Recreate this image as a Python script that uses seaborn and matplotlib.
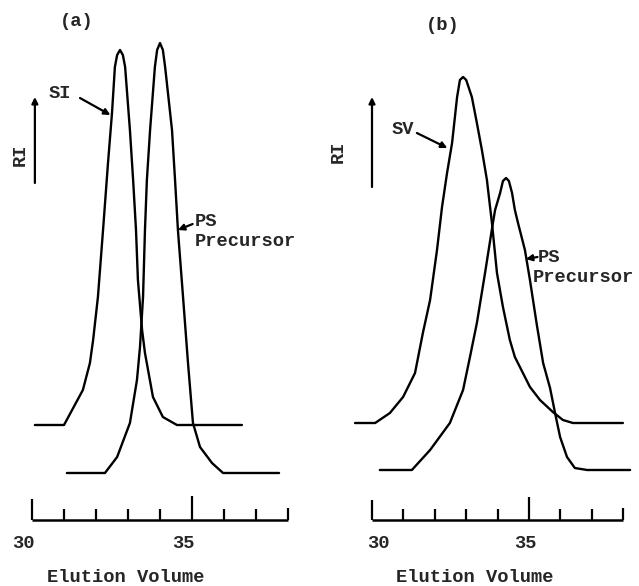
import numpy as np
import pandas as pd
import matplotlib
matplotlib.use("Agg")
import matplotlib.pyplot as plt
import seaborn as sns

# ---------------- data ----------------
# Panel (a): SI and PS precursor  (elution volume, height above own baseline)
si_a_vol = [30.09, 31.00, 31.59, 31.81, 31.91, 32.06, 32.22, 32.375, 32.50, 32.59,
            32.66, 32.75, 32.84, 32.91, 33.06, 33.16, 33.25, 33.31, 33.44, 33.53,
            33.78, 34.09, 34.53, 36.56]
si_a_h = [0, 0, 35, 62, 85, 128, 195, 262, 312, 358,
          370, 375, 370, 358, 295, 245, 195, 145, 95, 72,
          28, 8, 0, 0]
ps_a_vol = [31.09, 32.28, 32.66, 33.06, 33.28, 33.375, 33.47, 33.53, 33.59, 33.69,
            33.84, 33.91, 34.00, 34.09, 34.16, 34.375, 34.47, 34.56, 34.72, 34.875,
            35.03, 35.25, 35.625, 35.97, 37.72]
ps_a_h = [0, 0, 16, 50, 93, 126, 176, 243, 293, 343,
          406, 423, 430, 423, 406, 343, 293, 243, 176, 110,
          50, 26, 10, 0, 0]
si_a_base = 95
ps_a_base = 47

# Panel (b): SV and PS precursor
sv_b_vol = [29.46, 30.10, 30.57, 30.99, 31.37, 31.62, 31.85, 32.07, 32.23, 32.39,
            32.55, 32.71, 32.80, 32.90, 33.00, 33.18, 33.34, 33.50, 33.66, 33.76,
            33.82, 33.98, 34.17, 34.39, 34.55, 34.71, 35.03, 35.35, 35.76, 36.08,
            36.40, 37.99]
sv_b_h = [0, 0, 10, 26, 50, 90, 123, 173, 216, 250,
          280, 326, 343, 346, 343, 326, 300, 273, 243, 216,
          200, 150, 116, 83, 66, 56, 36, 23, 11, 3,
          0, 0]
ps_b_vol = [30.25, 31.27, 31.85, 32.48, 32.90, 33.12, 33.34, 33.60, 33.85, 33.92,
            34.08, 34.17, 34.27, 34.36, 34.46, 34.55, 34.65, 34.87, 35.03, 35.25,
            35.45, 35.67, 35.83, 35.99, 36.21, 36.46, 36.85, 38.22]
ps_b_h = [0, 0, 20, 47, 80, 113, 147, 197, 247, 260,
          277, 289, 292, 289, 277, 260, 247, 220, 190, 145,
          107, 82, 57, 33, 13, 2, 0, 0]
sv_b_base = 97
ps_b_base = 50

scale_ticks = [30, 31, 32, 33, 34, 35, 36, 37, 38]
tick_labels = ["30", "35"]
tick_label_vals = [30, 35]

# ---------------- figure ----------------
sns.set_style("white")
plt.rcParams["font.family"] = ["Liberation Mono", "DejaVu Sans Mono"]

fig = plt.figure(figsize=(6.39, 5.86), dpi=100)
fig.patch.set_facecolor("white")

ax_a = fig.add_axes([0, 0, 320 / 639, 1])
ax_b = fig.add_axes([320 / 639, 0, 319 / 639, 1])

FS = 13.5
FW = "bold"
LW = 1.7


def draw_panel(ax, curves, xlim, tick_h, lab_dx):
    rows = []
    for name, vol, h, base in curves:
        for v, hh in zip(vol, h):
            rows.append({"vol": v, "ri": base + hh, "curve": name})
    df = pd.DataFrame(rows)
    sns.lineplot(data=df, x="vol", y="ri", hue="curve", units="curve",
                 estimator=None, sort=False,
                 palette=["black"] * len(curves), legend=False,
                 linewidth=LW, ax=ax)
    for ln in ax.get_lines():
        ln.set_solid_joinstyle("round")
        ln.set_solid_capstyle("round")
    ax.set_xlim(*xlim)
    ax.set_ylim(-66, 520)
    ax.axis("off")
    # scale bar
    ax.plot([scale_ticks[0], scale_ticks[-1]], [0, 0], color="black", lw=1.8,
            solid_capstyle="butt")
    for t in scale_ticks:
        ax.plot([t, t], [0, tick_h.get(t, 11)], color="black", lw=1.6,
                solid_capstyle="butt")
    for lab, v, dx in zip(tick_labels, tick_label_vals, lab_dx):
        ax.text(v + dx, -23, lab, ha="center", va="center", fontsize=FS,
                fontweight=FW)


draw_panel(ax_a,
           [("SI", si_a_vol, si_a_h, si_a_base),
            ("PS", ps_a_vol, ps_a_h, ps_a_base)],
           (29.0, 39.0), {30: 21, 35: 24, 38: 12}, [-0.28, -0.28])
draw_panel(ax_b,
           [("SV", sv_b_vol, sv_b_h, sv_b_base),
            ("PS", ps_b_vol, ps_b_h, ps_b_base)],
           (28.344, 38.503), {30: 20, 35: 23, 38: 12}, [0.2, -0.13])

arrow_kw = dict(arrowstyle="-|>", color="black", lw=1.6, mutation_scale=9,
                shrinkA=0, shrinkB=0)
tk = dict(fontsize=FS, fontweight=FW)

# ---- panel (a) annotations ----
ax_a.text(31.41, 498, "(a)", ha="center", va="center", **tk)
ax_a.annotate("", xy=(30.09, 423), xytext=(30.09, 337), arrowprops=arrow_kw)
ax_a.text(29.625, 365, "RI", rotation=90, ha="center", va="center", **tk)
ax_a.text(30.875, 427, "SI", ha="center", va="center", **tk)
ax_a.annotate("", xy=(32.45, 405), xytext=(31.5, 422), arrowprops=arrow_kw)
ax_a.text(35.09, 298, "PS", ha="left", va="center", **tk)
ax_a.text(35.09, 278, "Precursor", ha="left", va="center", **tk)
ax_a.annotate("", xy=(34.56, 290), xytext=(35.02, 296), arrowprops=arrow_kw)
ax_a.text(32.94, -58, "Elution Volume", ha="center", va="center", **tk)

# ---- panel (b) annotations ----
ax_b.text(32.26, 495, "(b)", ha="center", va="center", **tk)
ax_b.annotate("", xy=(30.0, 423), xytext=(30.0, 333), arrowprops=arrow_kw)
ax_b.text(28.92, 368, "RI", rotation=90, ha="center", va="center", **tk)
ax_b.text(30.97, 390, "SV", ha="center", va="center", **tk)
ax_b.annotate("", xy=(32.40, 372), xytext=(31.43, 387), arrowprops=arrow_kw)
ax_b.text(35.29, 262, "PS", ha="left", va="center", **tk)
ax_b.text(35.13, 242, "Precursor", ha="left", va="center", **tk)
ax_b.annotate("", xy=(34.90, 261), xytext=(35.27, 263), arrowprops=arrow_kw)
ax_b.text(33.28, -58, "Elution Volume", ha="center", va="center", **tk)

fig.savefig("out.png", dpi=100, facecolor="white")
